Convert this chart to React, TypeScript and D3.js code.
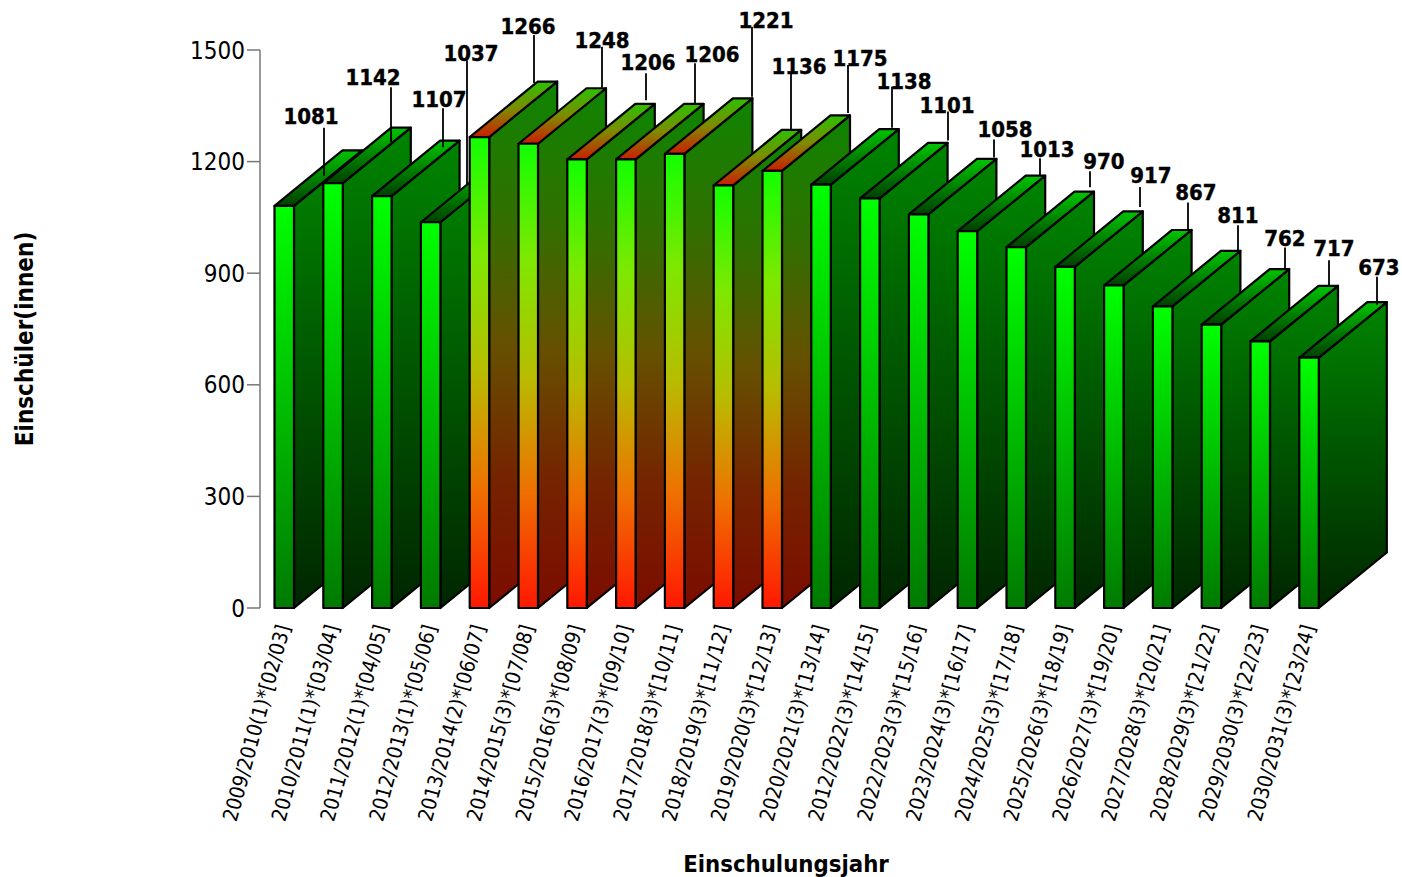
import React from "react";
import * as d3 from "d3";

const years = [
  "2009/2010(1)*[02/03]", "2010/2011(1)*[03/04]", "2011/2012(1)*[04/05]", "2012/2013(1)*[05/06]",
  "2013/2014(2)*[06/07]", "2014/2015(3)*[07/08]", "2015/2016(3)*[08/09]", "2016/2017(3)*[09/10]",
  "2017/2018(3)*[10/11]", "2018/2019(3)*[11/12]", "2019/2020(3)*[12/13]", "2020/2021(3)*[13/14]",
  "2012/2022(3)*[14/15]", "2022/2023(3)*[15/16]", "2023/2024(3)*[16/17]", "2024/2025(3)*[17/18]",
  "2025/2026(3)*[18/19]", "2026/2027(3)*[19/20]", "2027/2028(3)*[20/21]", "2028/2029(3)*[21/22]",
  "2029/2030(3)*[22/23]", "2030/2031(3)*[23/24]",
];
const pupils = [1081, 1142, 1107, 1037, 1266, 1248, 1206, 1206, 1221, 1136, 1175, 1138, 1101, 1058, 1013, 970, 917, 867, 811, 762, 717, 673];
const peakYears = [false, false, false, false, true, true, true, true, true, true, true, false, false, false, false, false, false, false, false, false, false, false];
const yTicks = [0, 300, 600, 900, 1200, 1500];

// Callout placement, relative to each bar's front top corner.
const leaderDx = [49.5, 67.7, 70.9, 46.1, 64.3, 83.5, 78.7, 78.9, 87.1, 77.3, 85.5, 80.7, 87.9, 85.1, 82.3, 83.5, 84.7, 83.9, 85.1, 83.3, 78.5, 77.7];
const leaderGap = [30, 41, 49, 37, 54, 56, 59, 56, 57, 56, 58, 57, 58, 57, 56, 60, 60, 56, 56, 56, 56, 53];
const leaderLength = [48, 55, 39, 125, 48, 41, 27, 40, 70, 56, 48, 41, 29, 18, 17, 16, 20, 27, 25, 21, 25, 28];
const labelDx = [-13, -18, -4, 4, -6, 0, 2, 17, 14, 8, 12, 12, -1, 11, 7, 14, 11, 8, 0, 0, 5, 2];
const labelDy = [-4, -2, -1, 1, -1, 1, -3, -1, 1, 1, 1, 2, 2, -2, -1, -2, -4, -2, -2, -2, -4, -2];

const FONT = "'DejaVu Sans Condensed', 'DejaVu Sans', sans-serif";
const DEPTH_X = 68;
const DEPTH_Y = 55.5;
const BAR_W = 19.5;

const y = d3.scaleLinear().domain([0, 1500]).range([608, 50]);
const x = d3.scalePoint<number>().domain(d3.range(years.length)).range([274.5, 1299.3]);

const area = (pts: [number, number][]) => d3.line()(pts) + "Z";

type Stop = [string, string];
const Grad = ({ id, stops }: { id: string; stops: Stop[] }) => (
  <linearGradient id={id} x1="0" y1="0" x2="0" y2="1">
    {stops.map(([o, c]) => <stop key={o} offset={o} stopColor={c} />)}
  </linearGradient>
);

export default function App() {
  return (
    <svg width={1402} height={877} style={{ position: "absolute", left: 0, top: 0, background: "#fff" }} fontFamily={FONT}>
      <defs>
        <Grad id="greenFront" stops={[["0", "#00ff00"], ["1", "#007a00"]]} />
        <Grad id="greenSide" stops={[["0", "#008400"], ["1", "#002600"]]} />
        <Grad id="greenTop" stops={[["0", "#00c400"], ["1", "#004000"]]} />
        <Grad id="peakFront" stops={[["0", "#12ff00"], ["0.25", "#7ee800"], ["0.5", "#b8bc00"], ["0.75", "#ef7000"], ["1", "#ff1800"]]} />
        <Grad id="peakSide" stops={[["0", "#0e8400"], ["0.25", "#307000"], ["0.5", "#665000"], ["0.75", "#752400"], ["1", "#7c0c00"]]} />
        <Grad id="peakTop" stops={[["0", "#2cc000"], ["0.5", "#7f8a00"], ["1", "#cc1c00"]]} />
      </defs>

      <line x1={260} x2={260} y1={y(1500)} y2={y(0)} stroke="#777" strokeWidth={1.5} />
      {yTicks.map((t) => (
        <g key={t}>
          <line x1={247} x2={260} y1={y(t)} y2={y(t)} stroke="#777" strokeWidth={1.5} />
          <text x={245} y={y(t) + 8.5} textAnchor="end" fontSize={24} fill="#000">{t}</text>
        </g>
      ))}

      {pupils.map((v, i) => {
        const x0 = x(i)!;
        const x1 = x0 + BAR_W;
        const top = y(v);
        const base = y(0);
        const kind = peakYears[i] ? "peak" : "green";
        return (
          <g key={i} stroke="#000" strokeWidth={2.2} strokeLinejoin="round">
            <path d={area([[x1, top], [x1 + DEPTH_X, top - DEPTH_Y], [x1 + DEPTH_X, base - DEPTH_Y], [x1, base]])} fill={`url(#${kind}Side)`} />
            <path d={area([[x0, top], [x0 + DEPTH_X, top - DEPTH_Y], [x1 + DEPTH_X, top - DEPTH_Y], [x1, top]])} fill={`url(#${kind}Top)`} />
            <rect x={x0} y={top} width={BAR_W} height={base - top} fill={`url(#${kind}Front)`} />
          </g>
        );
      })}

      {pupils.map((v, i) => {
        const lx = x(i)! + leaderDx[i];
        const y2 = y(v) - leaderGap[i];
        const y1 = y2 - leaderLength[i];
        return (
          <g key={i}>
            <line x1={lx} x2={lx} y1={y1} y2={y2} stroke="#000" strokeWidth={1.8} />
            <text x={lx + labelDx[i]} y={y1 + labelDy[i]} textAnchor="middle" fontSize={22} fontWeight="bold" fill="#000" stroke="#000" strokeWidth={0.4}>{v}</text>
          </g>
        );
      })}

      {years.map((t, i) => (
        <text key={t} transform={`translate(${x(i)! + 16},${627}) rotate(-74.5)`} textAnchor="end" fontSize={20.5} fill="#000">{t}</text>
      ))}

      <text transform="translate(33,339) rotate(-90)" textAnchor="middle" fontSize={24} fontWeight="bold" fill="#000">Einschüler(innen)</text>
      <text x={786} y={872} textAnchor="middle" fontSize={23.7} fontWeight="bold" fill="#000">Einschulungsjahr</text>
    </svg>
  );
}
